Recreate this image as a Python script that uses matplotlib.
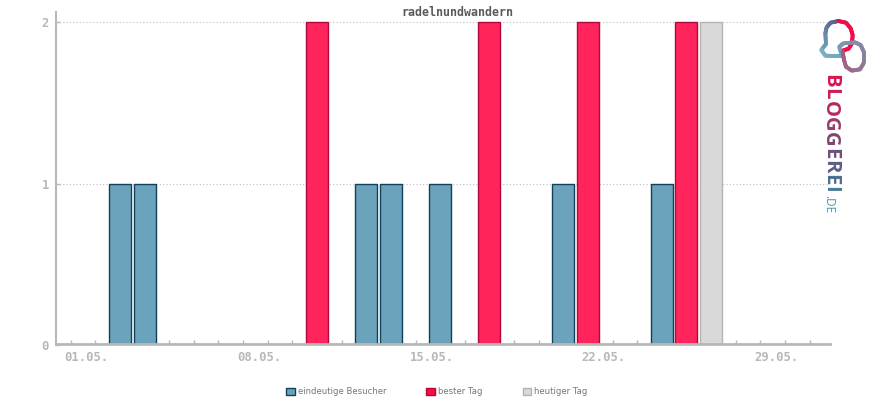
import matplotlib
matplotlib.use("Agg")
import matplotlib.pyplot as plt
import matplotlib.transforms as mtrans
import numpy as np

# daily values
days = list(range(1, 32))
visitor_days = [3, 4, 13, 14, 16, 21, 25]
visitor_vals = [1, 1, 1, 1, 1, 1, 1]
best_days = [11, 18, 22, 26]
best_vals = [2, 2, 2, 2]
today_days = [27]
today_vals = [2]
label_days = [1, 8, 15, 22, 29]
label_text = ["01.05.", "08.05.", "15.05.", "22.05.", "29.05."]
yticks = [0, 1, 2]

W, H = 870, 400
GRAY = "#b8b8b8"

fig = plt.figure(figsize=(W / 100, H / 100), dpi=100)
ax = fig.add_axes([56 / W, 1 - 345.4 / H, (830 - 56) / W, (345.4 - 12) / H])
ax.set_xlim(0.403, 31.83)
ax.set_ylim(0, 333.4 / 161.5)

b1 = ax.bar(visitor_days, visitor_vals, 0.9, color="#6ca3bc", edgecolor="#124058", lw=1, zorder=2, label="eindeutige Besucher")
b2 = ax.bar(best_days, best_vals, 0.9, color="#ff245c", edgecolor="#b0093c", lw=1, zorder=2, label="bester Tag")
b3 = ax.bar(today_days, today_vals, 0.9, color="#d9d9d9", edgecolor="#b4b4b4", lw=1, zorder=2, label="heutiger Tag")

for s in ["top", "right"]:
    ax.spines[s].set_visible(False)
for s in ["left", "bottom"]:
    ax.spines[s].set_color(GRAY)
    ax.spines[s].set_zorder(4)
ax.spines["left"].set_linewidth(1.5)
ax.spines["bottom"].set_linewidth(2)
ax.spines["bottom"].set_position(("outward", -0.7))

ax.set_yticks(yticks)
ax.yaxis.grid(True, ls=(0, (1, 2)), color="#bdbdbd", lw=0.8, zorder=1)
ax.tick_params(axis="y", direction="in", length=3, width=1, color=GRAY, labelcolor=GRAY, pad=5)
ax.set_xticks(days, minor=True)
ax.tick_params(axis="x", which="minor", direction="in", length=3, width=1, color=GRAY)
ax.set_xticks(label_days)
ax.set_xticklabels(label_text)
ax.tick_params(axis="x", which="major", direction="in", length=3, width=1, color=GRAY, labelcolor=GRAY, pad=4.5)
shift = mtrans.ScaledTranslation(16 / 100, 0, fig.dpi_scale_trans)
for t in ax.get_xticklabels():
    t.set_transform(t.get_transform() + shift)
for t in ax.get_xticklabels() + ax.get_yticklabels():
    t.set_family("DejaVu Sans Mono")
    t.set_fontsize(8.8)
    t.set_fontweight("bold")

fig.text(457.5 / W, 1 - 12 / H, "radelnundwandern", family="DejaVu Sans Mono", fontsize=8.4,
         fontweight="bold", color="#5a5a5a", ha="center", va="center")

leg = fig.legend(handles=[b1, b2, b3], loc="center", bbox_to_anchor=(437 / W, 1 - 392 / H), ncol=3,
                 frameon=False, prop={"family": "DejaVu Sans", "size": 6.1}, labelcolor="#777777",
                 columnspacing=4.7, handlelength=1, handleheight=1, handletextpad=0.4, borderpad=0)
for h, c in zip(leg.legend_handles, ["#6ca3bc", "#ff0a46", "#d9d9d9"]):
    h.set_facecolor(c)

# logo, drawn in pixel coordinates
px = fig.add_axes([0, 0, 1, 1], zorder=5)
px.set_xlim(0, W)
px.set_ylim(H, 0)
px.axis("off")

def grad_line(xs, ys, c0, c1, lw=2.8):
    xs, ys = np.array(xs) / 3 + 800, np.array(ys) / 3
    t = np.linspace(0, 1, len(xs) * 6)
    s = np.linspace(0, 1, len(xs))
    xi, yi = np.interp(t, s, xs), np.interp(t, s, ys)
    c0, c1 = np.array(matplotlib.colors.to_rgb(c0)), np.array(matplotlib.colors.to_rgb(c1))
    for i in range(len(t) - 1):
        px.plot(xi[i:i + 2], yi[i:i + 2], color=c0 + (c1 - c0) * t[i], lw=lw, solid_capstyle="round")

grad_line([64, 78, 76, 80, 92, 115], [150, 132, 100, 82, 68, 63], "#6fa8bd", "#5a5f8a")
grad_line([115, 138, 152, 158, 156, 146, 128], [63, 68, 85, 105, 130, 146, 152], "#e8104c", "#ff0a46")
grad_line([64, 76, 100, 126, 118], [150, 167, 168, 168, 142], "#7db3c6", "#6fa0b8")
grad_line([118, 130, 165, 182, 191, 191, 180, 155, 138, 132, 128], [140, 130, 127, 135, 155, 190, 208, 212, 200, 180, 155],
          "#7a9cb6", "#a65a80")

logo_letters = list("BLOGGEREI")
logo_colors = ["#d8164f", "#c81f58", "#b52a60", "#9c3a68", "#85436f", "#6f5078", "#5c5f84", "#4f6f90", "#4a7c98"]
y = 74.0
rend = fig.canvas.get_renderer()
for ch, c in zip(logo_letters, logo_colors):
    t = px.text(830, y, ch, rotation=-90, fontsize=14.6, family="Open Sans", fontweight="bold",
                color=c, ha="center", va="top")
    y += t.get_window_extent(rend).height + 0.65
px.text(828.5, 204, ".DE", rotation=-90, fontsize=8.5, family="Open Sans", color="#4f8fb0", ha="center", va="center")

fig.savefig("out.png", dpi=100)
